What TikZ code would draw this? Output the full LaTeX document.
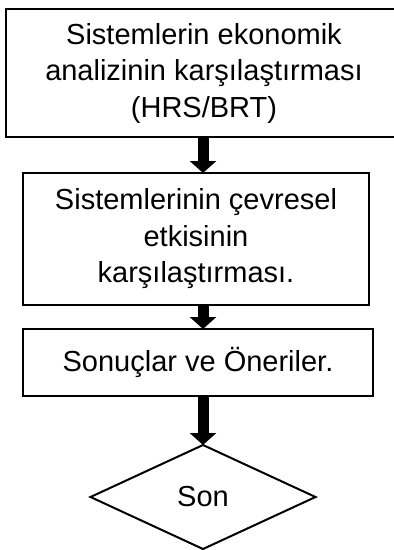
\documentclass[tikz,border=0pt]{standalone}
\usepackage{fontspec}
\setmainfont{Liberation Sans}
\usetikzlibrary{positioning,shapes.geometric,arrows.meta}

\begin{document}
\begin{tikzpicture}[x=1pt,y=1pt]
\tikzset{stepbox/.style={draw, line width=2pt, outer sep=0pt, inner sep=0pt, align=center, font=\fontsize{29}{36.5}\selectfont}}
\tikzset{endbox/.style={draw, diamond, line width=2pt, outer sep=0pt, inner sep=0pt, minimum width=225pt, minimum height=104pt, font=\fontsize{29}{36.5}\selectfont}}
\tikzset{flowarrow/.style={line width=11pt, -{Triangle[width=26pt,length=12pt]}}}

\useasboundingbox (0,0) rectangle (394,-550);

\node[stepbox, minimum width=396pt, minimum height=128pt] (ekonomik) at (204,-73) {Sistemlerin ekonomik\\analizinin karşılaştırması\\(HRS/BRT)};
\node[stepbox, minimum width=346pt, minimum height=132pt, below=36pt of ekonomik, xshift=-8pt] (cevresel) {Sistemlerinin çevresel\\etkisinin\\karşılaştırması.};
\node[stepbox, minimum width=350pt, minimum height=67pt, below=24pt of cevresel, xshift=2pt] (sonuclar) {Sonuçlar ve Öneriler.};
\node[endbox, below=49pt of sonuclar, xshift=5pt] (son) {Son};

\draw[flowarrow] (ekonomik.south -| son.north) -- (cevresel.north -| son.north);
\draw[flowarrow] (cevresel.south -| son.north) -- (sonuclar.north -| son.north);
\draw[flowarrow] (sonuclar.south -| son.north) -- (son.north);

\end{tikzpicture}
\end{document}
